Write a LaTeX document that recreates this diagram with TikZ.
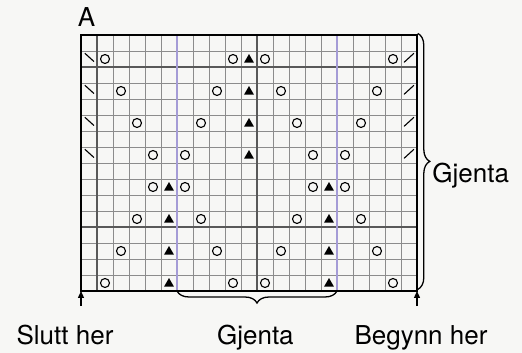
\documentclass[tikz,border=0pt]{standalone}
\usepackage{fontspec}
\setmainfont{TeX Gyre Heros}
\usepackage{xcolor}
\usetikzlibrary{arrows.meta,decorations.pathreplacing,shapes.geometric}
\definecolor{paper}{RGB}{247,247,245}
\definecolor{repeatline}{RGB}{165,156,214}

\begin{document}
\begin{tikzpicture}[
    x=16pt,
    y=16pt,
    font=\fontsize{26}{30}\selectfont,
    thinline/.style={draw=black!45, line width=0.9pt},
    thickline/.style={draw=black!65, line width=1.4pt},
    repline/.style={draw=repeatline, line width=2.2pt},
    hole/.style={
        circle,
        draw=black,
        line width=1.1pt,
        minimum size=9pt,
        inner sep=0pt
    },
    dec/.style={
        regular polygon,
        regular polygon sides=3,
        fill=black,
        minimum size=11.5pt,
        inner sep=0pt
    },
    slant/.style={line width=1.1pt, line cap=round},
    bracket/.style={decorate, decoration={brace, amplitude=12pt}, line width=1.3pt},
    startarrow/.style={-{Triangle[length=7pt,width=6pt]}, line width=1.3pt},
    note/.style={inner sep=0pt}
]

\fill[paper] (-5.0625,-3.875) rectangle (27.5625,18.1875);
\useasboundingbox (-5.0625,-3.875) rectangle (27.5625,18.1875);

\foreach \i in {1,...,20}
    \draw[thinline] (\i,0) -- (\i,16);
\foreach \j in {1,...,15}
    \draw[thinline] (0,\j) -- (21,\j);
\foreach \i in {1,11}
    \draw[thickline] (\i,0) -- (\i,16);
\foreach \j in {4,14}
    \draw[thickline] (0,\j) -- (21,\j);
\foreach \i in {6,16}
    \draw[repline] (\i,0) -- (\i,16);
\draw[line width=2.4pt] (0,0) rectangle (21,16);

\foreach \c/\r in {2/2,10/2,12/2,20/2, 3/4,9/4,13/4,19/4, 4/6,8/6,14/6,18/6, 5/8,7/8,15/8,17/8,
                   5/10,7/10,15/10,17/10, 4/12,8/12,14/12,18/12, 3/14,9/14,13/14,19/14, 2/16,10/16,12/16,20/16}
    \node[hole] (o-\c-\r) at (\c-0.5,16.5-\r) {};

\foreach \c/\r in {11/2,11/4,11/6,11/8, 6/10,6/12,6/14,6/16, 16/10,16/12,16/14,16/16}
    \node[dec] (t-\c-\r) at (\c-0.5,16.45-\r) {};

\foreach \r in {2,4,6,8} {
    \draw[slant] (0.25,16.85-\r) -- (0.8,16.35-\r);
    \draw[slant] (20.2,16.3-\r) -- (20.8,16.85-\r);
}

\coordinate (sw) at (0,0);
\coordinate (se) at (21,0);
\coordinate (slutt) at (0,-0.95);
\coordinate (begynn) at (21,-0.95);
\coordinate (repL) at (6,0);
\coordinate (repR) at (16,0);
\coordinate (rowtop) at (21.05,16.1);
\coordinate (rowbot) at (21.05,0.1);

\draw[startarrow] (slutt) -- (sw);
\draw[startarrow] (begynn) -- (se);
\draw[bracket] (repR) -- (repL);
\draw[bracket] (rowtop) -- (rowbot);

\node[note, anchor=base west] (chartname) at (-0.2,16.5) {A};
\node[note, anchor=base] (endlabel) at (-1.0,-3.375) {Slutt her};
\node[note, anchor=base] (replabel) at (10.9,-3.375) {Gjenta};
\node[note, anchor=base] (startlabel) at (21.25,-3.375) {Begynn her};
\node[note, anchor=base west] (rowrep) at (21.95,6.8) {Gjenta};

\end{tikzpicture}
\end{document}
